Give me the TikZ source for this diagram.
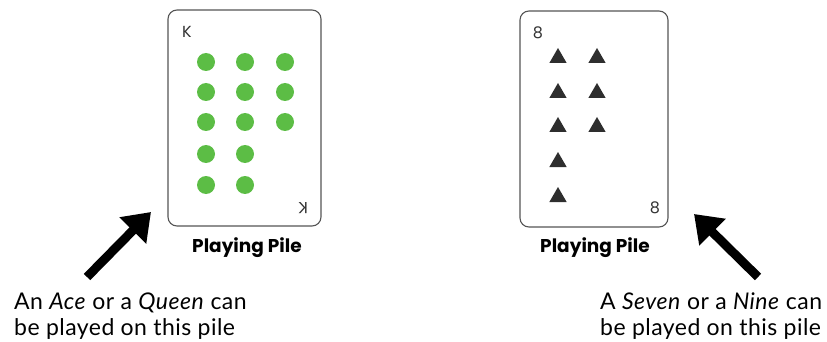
\documentclass[tikz,border=0pt]{standalone}
\usepackage{fontspec}
\setmainfont{Poppins}
\newfontfamily\notefont[LetterSpace=2]{Lato}
\usetikzlibrary{arrows.meta,shapes.geometric}
\definecolor{dotgreen}{HTML}{5CBD45}
\definecolor{tri}{HTML}{2E2E2E}
\definecolor{cardline}{HTML}{555555}
\tikzset{
  card/.style={draw=cardline, line width=1.1pt, rounded corners=9pt},
  dot/.style={circle, fill=dotgreen, minimum size=18pt, inner sep=0pt},
  spade/.style={regular polygon, regular polygon sides=3, fill=tri, minimum size=20pt, inner sep=0pt},
  cornerlbl/.style={font=\fontsize{16}{16}\selectfont, text=black!80, inner sep=0pt},
  pile/.style={font=\fontsize{18.5}{18.5}\selectfont\bfseries, inner sep=0pt},
  note/.style={font=\notefont\fontsize{23}{26}\selectfont, align=left, inner sep=0pt, anchor=north west},
  bigarrow/.style={line width=9pt, -{Triangle[width=36pt,length=26pt]}}
}
\begin{document}
\begin{tikzpicture}[x=1pt,y=-1pt]
\useasboundingbox (0,0) rectangle (827,342);
% left card
\draw[card] (168,10) rectangle (321,226);
\node[cornerlbl] (k1) at (187,32) {K};
\node[cornerlbl, rotate=180] (k2) at (303,208) {K};
\foreach \r/\y in {1/62,2/92,3/122,4/154,5/185}{
  \foreach \c/\x in {1/206,2/245}{
    \node[dot] (g\r\c) at (\x,\y) {};
  }
}
\foreach \r/\y in {1/62,2/92,3/122}{
  \node[dot] (g\r3) at (285,\y) {};
}
\node[pile] (p1) at (247,248) {Playing Pile};
% right card
\draw[card] (520,11) rectangle (668,227);
\node[cornerlbl] (e1) at (538,33) {8};
\node[cornerlbl] (e2) at (655,208) {8};
\foreach \r/\y in {1/58,2/93,3/127,4/162,5/197}{
  \node[spade] (t\r1) at (558,\y) {};
}
\foreach \r/\y in {1/58,2/93,3/127}{
  \node[spade] (t\r2) at (597,\y) {};
}
\node[pile] (p2) at (595,248) {Playing Pile};
% arrows
\coordinate (a1s) at (87,277);
\coordinate (a1e) at (151,212);
\draw[bigarrow] (a1s) -- (a1e);
\coordinate (a2s) at (758,277);
\coordinate (a2e) at (694,214);
\draw[bigarrow] (a2s) -- (a2e);
% notes
\node[note] (n1) at (14,293) {An \textit{Ace} or a \textit{Queen} can\\be played on this pile};
\node[note] (n2) at (600,293) {A \textit{Seven} or a \textit{Nine} can\\be played on this pile};
\end{tikzpicture}
\end{document}
